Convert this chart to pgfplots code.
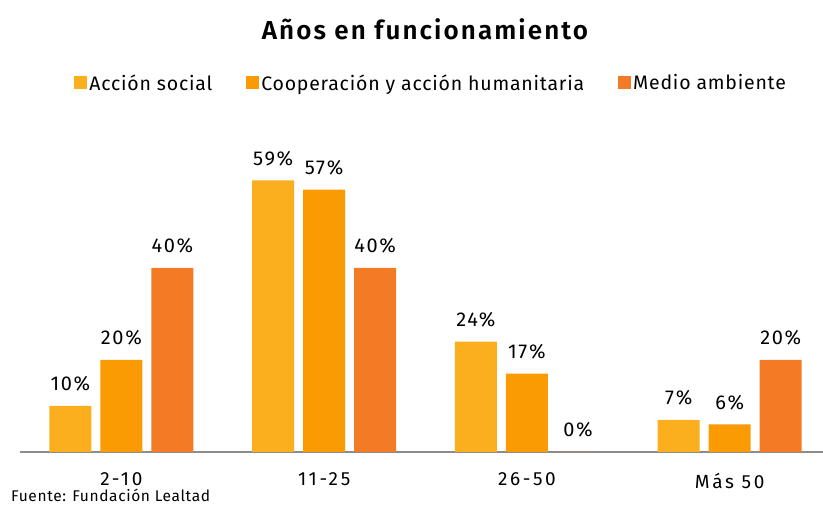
\documentclass[border=0pt]{standalone}
\usepackage{pgfplots}
\pgfplotsset{compat=1.18}
\usepackage{fontspec}
\setmainfont{Fira Sans}[LetterSpace=4]
\newfontfamily\titlefont{Fira Sans SemiBold}[LetterSpace=8]
\newfontfamily\numfont{Fira Sans}[LetterSpace=8]
\newfontfamily\tickfont{Fira Sans}[LetterSpace=14]
\definecolor{cA}{HTML}{FBAE1E}
\definecolor{cB}{HTML}{FB9B04}
\definecolor{cC}{HTML}{F47B25}
\begin{document}
\begin{tikzpicture}[x=1pt,y=1pt]
\useasboundingbox (0,0) rectangle (823,506);
\begin{axis}[
  at={(20pt,54pt)}, anchor=south west,
  scale only axis, width=803pt, height=342pt,
  xmin=-0.5, xmax=3.46, ymin=0, ymax=74.3,
  axis y line=none, axis x line*=bottom,
  x axis line style={draw=gray!90, line width=1.6pt, -},
  xtick=data, xticklabels={2-10,11-25,26-50,Más 50},
  xtick style={draw=none},
  xticklabel style={font=\tickfont\fontsize{19}{21}\selectfont, yshift=-13pt},
  ybar, bar width=42pt,
  clip=false,
  /pgf/number format/assume math mode=true,
  nodes near coords={\pgfmathprintnumber{\pgfplotspointmeta}\%},
  nodes near coords style={font=\numfont\fontsize{20}{22}\selectfont, anchor=south, yshift=11pt},
  legend columns=3,
  legend style={draw=none, at={(0.512,1.079)}, anchor=center, font=\fontsize{19.5}{21}\selectfont,
    /tikz/every even column/.append style={column sep=32pt}},
  legend image code/.code={\fill[#1] (-5pt,-6pt) rectangle (8pt,7pt);},
]
\addplot[fill=cA, draw=none, bar shift=-51pt] coordinates {(0,10) (1,59) (2,24) (3,7)};
\addplot[fill=cB, draw=none, bar shift=0pt] coordinates {(0,20) (1,57) (2,17) (3,6)};
\addplot[fill=cC, draw=none, bar shift=51pt] coordinates {(0,40) (1,40) (2,0) (3,20)};
\legend{Acción social, Cooperación y acción humanitaria, Medio ambiente}
\end{axis}
\node[font=\titlefont\fontsize{26}{29}\selectfont] at (425,477) {Años en funcionamiento};
\node[anchor=base west, font=\fontsize{15.5}{17}\selectfont, inner sep=0pt] at (11,4) {Fuente: Fundación Lealtad};
\end{tikzpicture}
\end{document}
